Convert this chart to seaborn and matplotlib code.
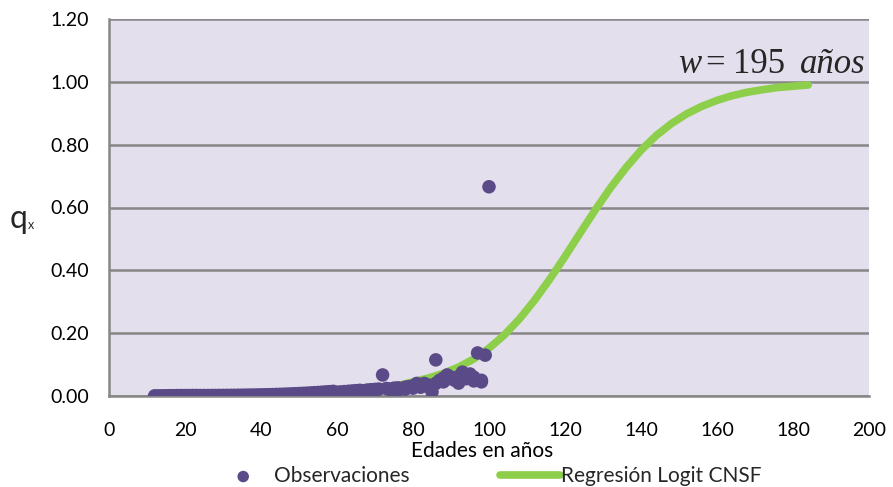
import matplotlib
matplotlib.use("Agg")
import matplotlib.pyplot as plt
import seaborn as sns
import pandas as pd

# ---------------- data ----------------
obs_age = [12, 13, 14, 15, 16, 17, 18, 19, 20,
           21, 22, 23, 24, 25, 26, 27, 28, 29, 30,
           31, 32, 33, 34, 35, 36, 37, 38, 39, 40,
           41, 42, 43, 44, 45, 46, 47, 48, 49, 50,
           51, 52, 53, 54, 55, 56, 57, 58, 59,
           60, 61, 62, 63, 64, 65, 66, 67, 68, 69,
           70, 71, 72, 73, 74, 75, 76, 77, 78, 79,
           80, 81, 82, 83, 84, 85, 86, 87, 88, 89,
           90, 91, 92, 93, 94, 95, 96, 97, 98, 99, 100,
           62, 66, 70, 74, 76, 78, 80, 82, 84, 86, 88, 90, 92, 94, 96, 98]
obs_qx = [0.0005, 0.0005, 0.0006, 0.0008, 0.0010, 0.0012, 0.0013, 0.0014, 0.0015,
          0.0015, 0.0016, 0.0016, 0.0015, 0.0015, 0.0016, 0.0016, 0.0017, 0.0018, 0.0019,
          0.0020, 0.0021, 0.0022, 0.0024, 0.0025, 0.0027, 0.0029, 0.0031, 0.0033, 0.0036,
          0.0039, 0.0042, 0.0045, 0.0049, 0.0053, 0.0057, 0.0062, 0.0067, 0.0072, 0.0078,
          0.0084, 0.0090, 0.0097, 0.0104, 0.0112, 0.0120, 0.0129, 0.0138, 0.0148,
          0.012, 0.013, 0.014, 0.015, 0.016, 0.017, 0.018, 0.017, 0.019, 0.020,
          0.021, 0.022, 0.067, 0.024, 0.022, 0.025, 0.026, 0.024, 0.028, 0.030,
          0.032, 0.040, 0.030, 0.040, 0.035, 0.013, 0.115, 0.050, 0.057, 0.067,
          0.060, 0.050, 0.041, 0.076, 0.065, 0.070, 0.060, 0.137, 0.050, 0.130, 0.666,
          0.010, 0.014, 0.018, 0.020, 0.018, 0.022, 0.025, 0.028, 0.030, 0.040, 0.045,
          0.055, 0.062, 0.055, 0.048, 0.045]

fit_age = [12, 16, 20, 24, 28, 32, 36, 40, 44, 48, 52, 56, 60, 64, 68, 72, 76, 80,
           84, 88, 92, 96, 100, 104, 108, 112, 116, 120, 124, 128, 132, 136, 140,
           144, 148, 152, 156, 160, 164, 168, 172, 176, 180, 184]
fit_qx = [0.0003, 0.0004, 0.0005, 0.0006, 0.0008, 0.0011, 0.0015, 0.0020, 0.0027,
          0.0036, 0.0049, 0.0065, 0.0090, 0.0120, 0.0160, 0.0220, 0.0330, 0.0450,
          0.0570, 0.0720, 0.0920, 0.1180, 0.1520, 0.1940, 0.2450, 0.3050, 0.3720,
          0.4440, 0.5190, 0.5930, 0.6630, 0.7260, 0.7820, 0.8290, 0.8670, 0.8980,
          0.9220, 0.9410, 0.9560, 0.9670, 0.9750, 0.9820, 0.9860, 0.9900]

x_ticks = [0, 20, 40, 60, 80, 100, 120, 140, 160, 180, 200]
y_ticks = [0.0, 0.2, 0.4, 0.6, 0.8, 1.0, 1.2]
y_tick_labels = ["0.00", "0.20", "0.40", "0.60", "0.80", "1.00", "1.20"]

obs_label = "Observaciones"
fit_label = "Regresión Logit CNSF"
x_label = "Edades en años"

# ---------------- styling ----------------
sns.set_theme(style="white")
plt.rcParams["font.family"] = ["Lato", "DejaVu Sans"]

W, H = 893, 487
fig = plt.figure(figsize=(W / 100, H / 100), dpi=100)
ax = fig.add_axes([109 / W, 1 - 396 / H, (869 - 109) / W, (396 - 19) / H])

bg = "#E4DFEC"
grid_c = "#878787"
purple = "#5B4A88"
green = "#8DCF4A"

ax.set_facecolor(bg)

obs_df = pd.DataFrame({"edad": obs_age, "qx": obs_qx})
fit_df = pd.DataFrame({"edad": fit_age, "qx": fit_qx})

sns.lineplot(data=fit_df, x="edad", y="qx", ax=ax, color=green, linewidth=5.5,
             solid_capstyle="round", label=fit_label, zorder=3, legend=False)
sns.scatterplot(data=obs_df, x="edad", y="qx", ax=ax, color=purple, s=95,
                edgecolor="none", label=obs_label, zorder=4, legend=False)

ax.set_xlim(0, 200)
ax.set_ylim(0, 1.2)
ax.set_xticks(x_ticks)
ax.set_yticks(y_ticks)
ax.set_yticklabels(y_tick_labels)
ax.yaxis.grid(True, color=grid_c, linewidth=1.8)
ax.xaxis.grid(False)
ax.set_axisbelow(True)

for side in ["top", "right"]:
    ax.spines[side].set_visible(False)
for side in ["left", "bottom"]:
    ax.spines[side].set_color(grid_c)
    ax.spines[side].set_linewidth(1.8)

ax.tick_params(axis="both", direction="out", length=6.5, width=1.5, color=grid_c,
               labelsize=14, labelcolor="#000000")
ax.tick_params(axis="y", pad=8)
ax.tick_params(axis="x", pad=12)
ax.set_xlabel(x_label, fontsize=15, color="#000000")
ax.xaxis.set_label_coords((482 - 109) / 760, (396 - 441) / 377)
ax.set_ylabel("")

# y label q with small subscript x
fig.text(10 / W, 1 - 228 / H, "q", fontsize=23, ha="left", va="baseline")
fig.text(28 / W, 1 - 229 / H, "x", fontsize=9, ha="left", va="baseline")

# annotation w = 195 años
serif = ["Liberation Serif", "DejaVu Serif"]
yb = 1 - 73 / H
fs_ann = 25
fig.text(678 / W, yb, "w", fontsize=fs_ann, fontstyle="italic", family=serif, va="baseline")
fig.text(705 / W, yb, "=", fontsize=fs_ann, family=serif, va="baseline")
fig.text(733 / W, yb, "195", fontsize=fs_ann, family=serif, va="baseline")
fig.text(800 / W, yb, "años", fontsize=fs_ann, fontstyle="italic", family=serif, va="baseline")

# legend
handles, labels = ax.get_legend_handles_labels()
order = [labels.index(obs_label), labels.index(fit_label)]
leg = fig.legend([handles[i] for i in order], [labels[i] for i in order],
                 loc="center left", bbox_to_anchor=(213 / W, 1 - 476 / H),
                 ncol=2, frameon=False, fontsize=15, handlelength=2.9,
                 handletextpad=0.05, columnspacing=4.3, borderpad=0,
                 borderaxespad=0, markerscale=0.85)

fig.savefig("out.png", dpi=100)
